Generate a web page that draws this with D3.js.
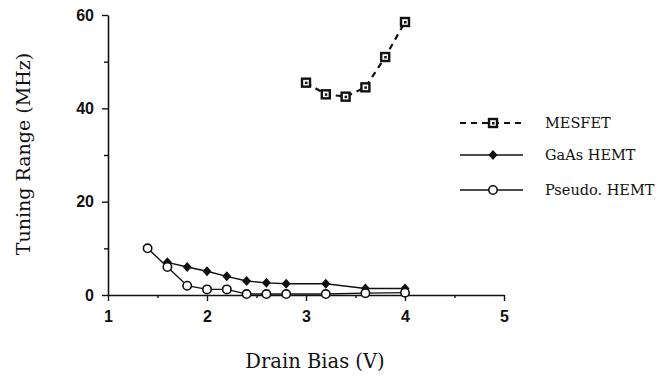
<!DOCTYPE html>
<html><head><meta charset="utf-8">
<script src="https://cdn.jsdelivr.net/npm/d3@7"></script>
<style>body{margin:0;background:#fff}svg{display:block}</style>
</head><body>
<svg id="c" width="659" height="376"></svg>
<script>
const mesfetX = [3.0, 3.2, 3.4, 3.6, 3.8, 4.0];
const mesfetY = [45.5, 43, 42.5, 44.5, 51, 58.5];
const gaasX = [1.6, 1.8, 2.0, 2.2, 2.4, 2.6, 2.8, 3.2, 3.6, 4.0];
const gaasY = [7, 6, 5.1, 4, 3, 2.6, 2.4, 2.4, 1.4, 1.4];
const pseudoX = [1.4, 1.6, 1.8, 2.0, 2.2, 2.4, 2.6, 2.8, 3.2, 3.6, 4.0];
const pseudoY = [10, 6, 2, 1.2, 1.2, 0.2, 0.2, 0.2, 0.2, 0.4, 0.5];
const xTicks = [1, 2, 3, 4, 5];
const xMinor = [1.5, 2.5, 3.5, 4.5];
const yTicks = [0, 20, 40, 60];
const yMinor = [10, 30, 50];
const seriesNames = ["MESFET", "GaAs HEMT", "Pseudo. HEMT"];
const xTitle = "Drain Bias (V)";
const yTitle = "Tuning Range (MHz)";

const svg = d3.select("#c");
const x = d3.scaleLinear().domain([1, 5]).range([108, 504]);
const y = d3.scaleLinear().domain([0, 60]).range([295, 15]);
const tickFont = "'Liberation Sans', Arial, sans-serif";
const serif = "'DejaVu Serif', serif";

// axes
svg.append("g").attr("transform", `translate(0,${y(0)})`)
  .call(d3.axisBottom(x).tickValues(xTicks).tickFormat(d3.format("d")).tickSize(6).tickPadding(10).tickSizeOuter(0));
svg.append("g").attr("transform", `translate(0,${y(0)})`)
  .call(d3.axisBottom(x).tickValues(xMinor).tickFormat("").tickSize(3).tickSizeOuter(0))
  .select(".domain").remove();
svg.append("g").attr("transform", `translate(${x(1)},0)`)
  .call(d3.axisLeft(y).tickValues(yTicks).tickFormat(d3.format("d")).tickSize(6).tickPadding(8).tickSizeOuter(0));
svg.append("g").attr("transform", `translate(${x(1)},0)`)
  .call(d3.axisLeft(y).tickValues(yMinor).tickFormat("").tickSize(4).tickSizeOuter(0))
  .select(".domain").remove();
svg.selectAll(".domain").attr("stroke", "#111").attr("stroke-width", 1.6);
svg.selectAll(".tick line").attr("stroke", "#111").attr("stroke-width", 1.4);
svg.selectAll(".tick text").attr("font-family", tickFont).attr("font-size", 16)
  .attr("font-weight", "bold").attr("fill", "#111");

// lines
const line = d3.line().x(d => x(d[0])).y(d => y(d[1]));
const mes = mesfetX.map((v, i) => [v, mesfetY[i]]);
const gaas = gaasX.map((v, i) => [v, gaasY[i]]);
const pse = pseudoX.map((v, i) => [v, pseudoY[i]]);

svg.append("path").datum(gaas).attr("d", line).attr("fill", "none").attr("stroke", "#111").attr("stroke-width", 1.4);
svg.append("path").datum(pse).attr("d", line).attr("fill", "none").attr("stroke", "#111").attr("stroke-width", 1.4);
svg.append("path").datum(mes).attr("d", line).attr("fill", "none").attr("stroke", "#111")
  .attr("stroke-width", 2.2).attr("stroke-dasharray", "6,5");

function square(g, cx, cy) {
  g.append("rect").attr("x", cx - 4).attr("y", cy - 4).attr("width", 8).attr("height", 8)
    .attr("fill", "#fff").attr("stroke", "#111").attr("stroke-width", 2.4);
  g.append("rect").attr("x", cx - 1).attr("y", cy - 1).attr("width", 2.5).attr("height", 2.5).attr("fill", "#111");
}
function diamond(g, cx, cy) {
  g.append("path").attr("d", `M${cx},${cy - 5}L${cx + 4.5},${cy}L${cx},${cy + 5}L${cx - 4.5},${cy}Z`).attr("fill", "#111");
}
function circle(g, cx, cy) {
  g.append("circle").attr("cx", cx).attr("cy", cy).attr("r", 4.2).attr("fill", "#fff")
    .attr("stroke", "#111").attr("stroke-width", 1.6);
}
const mk = svg.append("g");
mes.forEach(d => square(mk, x(d[0]), y(d[1])));
gaas.forEach(d => diamond(mk, x(d[0]), y(d[1])));
pse.forEach(d => circle(mk, x(d[0]), y(d[1])));

// titles
svg.append("text").attr("x", 315).attr("y", 368).attr("text-anchor", "middle")
  .attr("font-family", serif).attr("font-size", 19.5).attr("fill", "#111").text(xTitle);
svg.append("text").attr("transform", "translate(30,154) rotate(-90)").attr("text-anchor", "middle")
  .attr("font-family", serif).attr("font-size", 19).attr("fill", "#111").text(yTitle);

// legend
const legY = [123, 155, 190];
const lg = svg.append("g");
legY.forEach((ly, i) => {
  const p = lg.append("path").attr("d", d3.line()([[460, ly], [523, ly]])).attr("stroke", "#111").attr("fill", "none");
  if (i === 0) { p.attr("stroke-width", 2.2).attr("stroke-dasharray", "6,5"); square(lg, 493, ly); }
  else { p.attr("stroke-width", 1.4); if (i === 1) diamond(lg, 493, ly); else circle(lg, 493, ly); }
  lg.append("text").attr("x", 545).attr("y", ly + 5).attr("font-family", serif).attr("font-size", 14.5)
    .attr("fill", "#111").text(seriesNames[i]);
});
</script>
</body></html>
